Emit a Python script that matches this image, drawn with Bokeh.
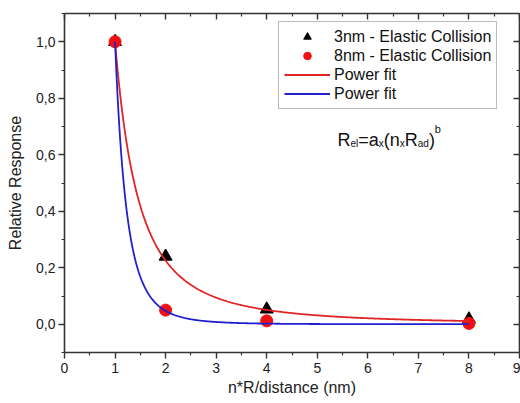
import numpy as np
from bokeh.plotting import figure
from bokeh.models import (FixedTicker, LinearAxis, Label, Legend, LegendItem,
                          CustomJSTickFormatter, Range1d)
from bokeh.embed import file_html
from bokeh.resources import INLINE

# ---- data ----
x_points = [1, 2, 4, 8]
y_3nm = [1.0, 0.24, 0.053, 0.018]
y_8nm = [1.0, 0.05, 0.012, 0.003]
# power fit parameters  y = a * x^b
fit_3nm = dict(a=1.0, b=-2.15)
fit_8nm = dict(a=1.0, b=-4.4)
x_fit_range = (1.0, 8.0)

x_ticks = [0, 1, 2, 3, 4, 5, 6, 7, 8, 9]
x_minor = [0.5, 1.5, 2.5, 3.5, 4.5, 5.5, 6.5, 7.5, 8.5]
y_ticks = [0.0, 0.2, 0.4, 0.6, 0.8, 1.0]
y_minor = [-0.1, 0.1, 0.3, 0.5, 0.7, 0.9, 1.1]

legend_labels = ["3nm - Elastic Collision", "8nm - Elastic Collision",
                 "Power fit", "Power fit"]

FONT = "Liberation Sans"
AX = "#333333"
RED_LINE = "#e02424"
RED_MARK = "#f01010"
BLUE_LINE = "#2020d0"

p = figure(width=520, height=403, output_backend="svg", toolbar_location=None,
           x_range=Range1d(0, 9), y_range=Range1d(-0.1, 1.1),
           min_border_left=64, min_border_right=1, min_border_top=13,
           min_border_bottom=51, x_axis_label="n*R/distance (nm)",
           y_axis_label="Relative Response")
p.grid.visible = False
p.outline_line_color = None
p.background_fill_color = "white"
p.border_fill_color = "white"

xt = FixedTicker(ticks=x_ticks, minor_ticks=x_minor)
yt = FixedTicker(ticks=y_ticks, minor_ticks=y_minor)
yfmt = CustomJSTickFormatter(code="return tick.toFixed(1).replace('.', ',');")
blank = CustomJSTickFormatter(code="return '';")

def style_axis(ax, outward=True, labels=True):
    ax.axis_line_color = AX
    ax.axis_line_width = 1.6
    ax.major_tick_line_color = AX
    ax.minor_tick_line_color = AX
    ax.major_tick_line_width = 1.4
    ax.minor_tick_line_width = 1.2
    if outward:
        ax.major_tick_out = 6
        ax.major_tick_in = 0
        ax.minor_tick_out = 3
        ax.minor_tick_in = 0
    else:
        ax.major_tick_out = 0
        ax.major_tick_in = 6
        ax.minor_tick_out = 0
        ax.minor_tick_in = 3
    ax.major_label_text_font = FONT
    ax.major_label_text_font_size = "14px"
    ax.major_label_text_color = "#222222"
    ax.axis_label_text_font = FONT
    ax.axis_label_text_font_size = "16px"
    ax.axis_label_text_font_style = "normal"
    ax.axis_label_text_color = "#222222"
    if not labels:
        ax.formatter = blank
        ax.major_label_standoff = 0

p.xaxis.ticker = xt
p.yaxis.ticker = yt
p.yaxis.formatter = yfmt
style_axis(p.xaxis[0])
style_axis(p.yaxis[0])
p.xaxis.major_label_standoff = 4
p.yaxis.major_label_standoff = 3
p.xaxis.axis_label_standoff = 3
p.yaxis.axis_label_standoff = 9

top = LinearAxis(ticker=FixedTicker(ticks=x_ticks, minor_ticks=x_minor))
style_axis(top, outward=False, labels=False)
p.add_layout(top, "above")
right = LinearAxis(ticker=FixedTicker(ticks=y_ticks, minor_ticks=y_minor))
style_axis(right, outward=False, labels=False)
p.add_layout(right, "right")

# markers
r_tri = p.scatter(x_points, y_3nm, marker="triangle", size=13,
                  fill_color="black", line_color="black")
r_cir = p.scatter(x_points, y_8nm, marker="circle", size=12,
                  fill_color=RED_MARK, line_color=RED_MARK)

# fit curves
xs = np.linspace(x_fit_range[0], x_fit_range[1], 400)
r_fit1 = p.line(xs, fit_3nm["a"] * xs ** fit_3nm["b"], line_color=RED_LINE,
                line_width=1.8)
r_fit2 = p.line(xs, fit_8nm["a"] * xs ** fit_8nm["b"], line_color=BLUE_LINE,
                line_width=1.8)

legend = Legend(items=[
    LegendItem(label=legend_labels[0], renderers=[r_tri]),
    LegendItem(label=legend_labels[1], renderers=[r_cir]),
    LegendItem(label=legend_labels[2], renderers=[r_fit1]),
    LegendItem(label=legend_labels[3], renderers=[r_fit2]),
], location=(214, 243))
legend.margin = 0
legend.padding = 5
legend.spacing = 0
legend.label_height = 19
legend.glyph_height = 19
legend.glyph_width = 46
legend.label_standoff = 4
legend.label_text_font = FONT
legend.label_text_font_size = "16px"
legend.label_text_color = "#111111"
legend.border_line_color = "#777777"
legend.border_line_width = 1.2
legend.background_fill_color = "white"
legend.background_fill_alpha = 1.0
p.add_layout(legend)

# formula annotation R_el = a_x (n_x R_ad)^b
fx, fy = 5.4, 0.652
pieces = [
    ("R", 18, 0, 13.0),
    ("el", 10, -3, 7.8),
    ("=a", 18, 0, 20.5),
    ("x", 10, -3, 5.0),
    ("(n", 18, 0, 16.0),
    ("x", 10, -3, 5.0),
    ("R", 18, 0, 13.0),
    ("ad", 10, -3, 11.1),
    (")", 18, 0, 5.8),
    ("b", 11, 11, 6.0),
]
off = 0.0
for txt, size, dy, w in pieces:
    p.add_layout(Label(x=fx, y=fy, text=txt, x_offset=off, y_offset=dy,
                       text_font=FONT, text_font_size=f"{size}px",
                       text_color="#111111", text_baseline="alphabetic",
                       text_align="left"))
    off += w

open("out.html", "w").write(file_html(p, INLINE))
